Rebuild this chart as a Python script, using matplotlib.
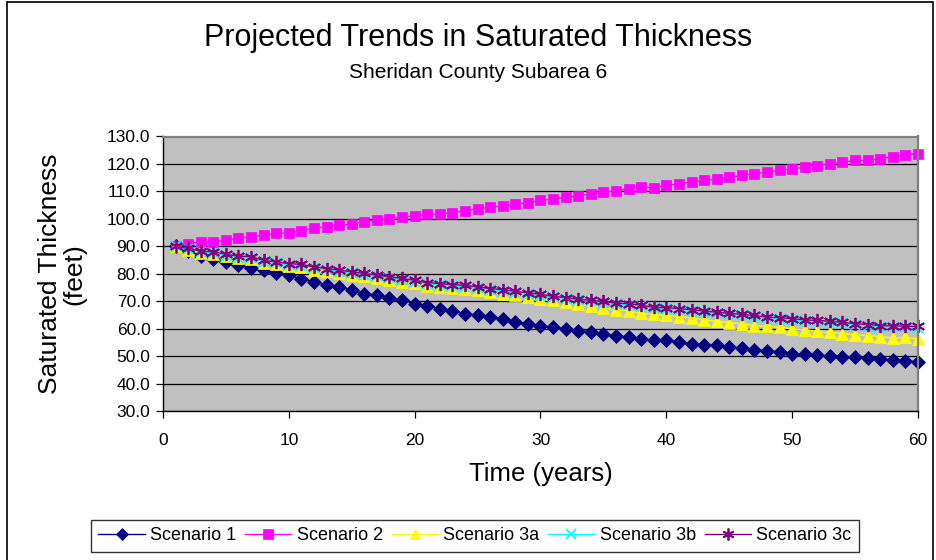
import numpy as np
import matplotlib.pyplot as plt

plt.rcParams['font.family'] = ['Liberation Sans', 'DejaVu Sans']

years = np.arange(1, 61)

scenario_1 = [90.0, 88.2, 86.6, 85.3, 84.2, 83.1, 82.0, 81.2, 80.3, 79.4,
              78.2, 77.0, 75.8, 75.3, 74.0, 72.8, 72.2, 71.0, 70.5, 69.0,
              68.4, 67.2, 66.6, 65.4, 64.8, 64.2, 63.6, 62.4, 61.8, 61.1,
              60.5, 59.9, 59.3, 58.7, 57.9, 57.4, 56.9, 56.4, 55.7, 55.8,
              55.0, 54.5, 53.9, 53.9, 53.4, 53.0, 52.3, 52.0, 51.4, 50.8,
              50.8, 50.3, 50.1, 49.7, 49.6, 49.2, 49.1, 48.5, 48.3, 47.9]
scenario_2 = [90.0, 91.0, 91.6, 91.6, 92.3, 92.9, 93.5, 94.1, 94.7, 94.9,
              95.7, 96.6, 97.1, 97.7, 98.1, 99.0, 99.6, 100.0, 100.6, 101.1,
              101.7, 101.7, 102.3, 103.0, 103.6, 104.2, 104.7, 105.3, 105.9, 106.7,
              107.2, 107.8, 108.4, 109.1, 109.6, 110.3, 110.9, 111.6, 111.4, 112.2,
              112.8, 113.4, 114.0, 114.5, 115.2, 115.8, 116.4, 117.1, 117.7, 118.2,
              118.8, 119.4, 120.1, 120.7, 121.3, 121.3, 121.9, 122.6, 123.2, 123.8]
scenario_3a = [90.0, 88.7, 87.7, 87.2, 86.3, 85.6, 85.2, 84.0, 83.4, 82.8,
               82.4, 81.5, 80.9, 80.3, 79.6, 79.0, 78.4, 77.8, 77.1, 76.5,
               75.7, 75.2, 74.8, 74.5, 73.9, 73.3, 72.8, 72.2, 71.6, 70.9,
               70.3, 69.7, 68.8, 68.2, 67.5, 66.9, 66.4, 65.6, 65.2, 64.8,
               64.4, 64.0, 63.2, 62.7, 62.1, 61.8, 61.1, 60.8, 60.5, 59.9,
               59.6, 59.1, 58.7, 58.1, 57.7, 57.5, 57.1, 56.6, 56.8, 56.3]
scenario_3b = [90.0, 88.9, 87.9, 87.5, 86.6, 85.9, 85.6, 84.4, 83.8, 83.2,
               82.9, 82.0, 81.4, 80.8, 80.2, 79.6, 79.0, 78.4, 77.8, 77.1,
               76.3, 75.9, 75.5, 75.3, 74.7, 74.1, 73.7, 73.1, 72.5, 72.0,
               71.4, 70.9, 70.3, 69.9, 69.5, 68.9, 68.7, 68.1, 67.4, 67.2,
               66.9, 66.5, 66.0, 65.6, 65.2, 64.8, 64.4, 63.8, 63.6, 63.2,
               62.8, 62.6, 62.3, 61.9, 61.4, 61.1, 60.7, 60.6, 60.5, 60.3]
scenario_3c = [90.0, 89.2, 88.2, 88.0, 87.1, 86.4, 86.2, 84.9, 84.3, 83.7,
               83.4, 82.5, 81.9, 81.3, 80.7, 80.1, 79.5, 78.9, 78.3, 77.6,
               76.8, 76.4, 76.0, 75.8, 75.2, 74.6, 74.2, 73.6, 73.0, 72.5,
               71.8, 71.3, 70.7, 70.3, 69.9, 69.3, 69.1, 68.5, 67.8, 67.6,
               67.3, 66.9, 66.4, 66.0, 65.6, 65.2, 64.8, 64.2, 64.0, 63.6,
               63.2, 63.0, 62.7, 62.3, 61.8, 61.5, 61.1, 61.0, 60.9, 60.8]

labels = ['Scenario 1', 'Scenario 2', 'Scenario 3a', 'Scenario 3b', 'Scenario 3c']
colors = ['#000080', '#FF00FF', '#FFFF00', '#00FFFF', '#800080']
markers = ['D', 's', '^', 'x', (6, 2, 0)]
sizes = [7, 7.5, 8, 7.5, 9.5]
series = [scenario_1, scenario_2, scenario_3a, scenario_3b, scenario_3c]

fig = plt.figure(figsize=(9.37, 5.6), dpi=100)
# chart area border like excel
fig.add_artist(plt.Rectangle((7 / 937, -0.05), 926 / 937, 1.05 - 2 / 560,
                             fill=False, edgecolor='black', linewidth=1.2,
                             transform=fig.transFigure))

ax = fig.add_axes([163 / 937, 1 - 411 / 560, 755 / 937, 274.5 / 560])
ax.set_facecolor('#C0C0C0')

for vals, lab, c, m, ms in zip(series, labels, colors, markers, sizes):
    ax.plot(years, vals, color=c, marker=m, markersize=ms, linewidth=1,
            markeredgewidth=1.3 if m in ('x', (6, 2, 0)) else 0.5,
            markeredgecolor=c, label=lab, clip_on=False)

ax.set_xlim(0, 60)
ax.set_ylim(30, 130)
ax.set_xticks(np.arange(0, 61, 10))
ax.set_yticks(np.arange(30, 131, 10))
ax.set_yticklabels([f'{v:.1f}' for v in np.arange(30, 131, 10)])
ax.yaxis.grid(True, color='black', linewidth=0.9)
ax.set_axisbelow(True)
ax.tick_params(axis='both', labelsize=12.5, length=5, width=0.9, colors='black')
ax.tick_params(axis='x', pad=11)
ax.tick_params(axis='y', pad=4)

for s in ['top', 'right']:
    ax.spines[s].set_color('#808080')
    ax.spines[s].set_linewidth(1.6)
for s in ['left', 'bottom']:
    ax.spines[s].set_color('black')
    ax.spines[s].set_linewidth(1.0)

ax.set_xlabel('Time (years)', fontsize=18.5, labelpad=10)
ax.set_ylabel('Saturated Thickness\n(feet)', fontsize=19, labelpad=15,
              linespacing=1.0)

fig.text(478 / 937, 1 - 38 / 560, 'Projected Trends in Saturated Thickness',
         ha='center', va='center', fontsize=22)
fig.text(478 / 937, 1 - 72 / 560, 'Sheridan County Subarea 6',
         ha='center', va='center', fontsize=15)

leg = fig.legend(loc='center', bbox_to_anchor=(475 / 937, 1 - 536 / 560),
                 ncol=5, fontsize=13, frameon=True, fancybox=False,
                 edgecolor='black', handlelength=2.55, columnspacing=0.5,
                 handletextpad=0.3, borderpad=0.4, markerscale=0.9)
leg.get_frame().set_linewidth(1.0)

fig.savefig('out.png', dpi=100)
